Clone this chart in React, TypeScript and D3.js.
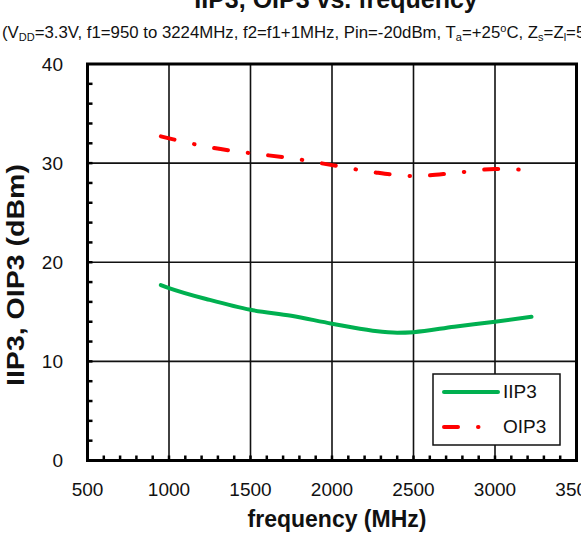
import React from "react";
import * as d3 from "d3";

const freqIIP3 = [950, 1000, 1250, 1500, 1750, 2000, 2250, 2400, 2500, 2750, 3000, 3224];
const valIIP3 = [17.7, 17.4, 16.2, 15.2, 14.6, 13.8, 13.1, 12.9, 12.95, 13.5, 14.0, 14.5];
const freqOIP3 = [950, 1000, 1250, 1500, 1750, 2000, 2250, 2500, 2750, 3000, 3224];
const valOIP3 = [32.7, 32.5, 31.6, 31.0, 30.5, 29.8, 29.1, 28.7, 29.0, 29.4, 29.3];
const xTicks = [500, 1000, 1500, 2000, 2500, 3000, 3500];
const yTicks = [0, 10, 20, 30, 40];
const seriesNames = ["IIP3", "OIP3"];

const FONT = "'Liberation Sans', Arial, Helvetica, sans-serif";

export default function App() {
  const x = d3.scaleLinear().domain([500, 3500]).range([87.5, 576.5]);
  const y = d3.scaleLinear().domain([0, 40]).range([460.5, 64]);
  const line = d3
    .line<[number, number]>()
    .x((d) => x(d[0]))
    .y((d) => y(d[1]))
    .curve(d3.curveMonotoneX);
  const iip3 = freqIIP3.map((f, i) => [f, valIIP3[i]] as [number, number]);
  const oip3 = freqOIP3.map((f, i) => [f, valOIP3[i]] as [number, number]);
  const minorX = d3.range(600, 3500, 100);
  const minorY = d3.range(2, 40, 2);
  const [x0, x1] = x.range();
  const [y0, y1] = y.range();

  return (
    <svg
      width={581}
      height={544}
      style={{ position: "absolute", left: 0, top: 0, background: "#fff" }}
      fontFamily={FONT}
    >
      <rect x={0} y={0} width={581} height={544} fill="#fff" />
      {/* title */}
      <text x={336} y={8} textAnchor="middle" fontWeight="bold" fontSize={25} fill="#111">
        IIP3, OIP3 vs. frequency
      </text>
      <text x={2} y={38} fontSize={16.8} fill="#111">
        (V<tspan fontSize={11} dy={3}>DD</tspan>
        <tspan dy={-3}>=3.3V, f1=950 to 3224MHz, f2=f1+1MHz, Pin=-20dBm, T</tspan>
        <tspan fontSize={11} dy={3}>a</tspan>
        <tspan dy={-3}>=+25</tspan>
        <tspan fontSize={11} dy={-6}>o</tspan>
        <tspan dy={6}>C, Z</tspan>
        <tspan fontSize={11} dy={3}>s</tspan>
        <tspan dy={-3}>=Z</tspan>
        <tspan fontSize={11} dy={3}>l</tspan>
        <tspan dy={-3}>=50Ω)</tspan>
      </text>

      {/* grid */}
      {xTicks.slice(1, -1).map((t) => (
        <line key={"gx" + t} x1={x(t)} x2={x(t)} y1={y1} y2={y0} stroke="#111" strokeWidth={1.6} />
      ))}
      {yTicks.slice(1, -1).map((t) => (
        <line key={"gy" + t} x1={x0} x2={x1} y1={y(t)} y2={y(t)} stroke="#111" strokeWidth={1.6} />
      ))}
      {/* minor ticks */}
      {minorX.map((t) => (
        <line key={"mx" + t} x1={x(t)} x2={x(t)} y1={y0} y2={y0 - 5} stroke="#000" strokeWidth={2.5} />
      ))}
      {minorY.map((t) => (
        <line key={"my" + t} x1={x0} x2={x0 + 5} y1={y(t)} y2={y(t)} stroke="#000" strokeWidth={2.5} />
      ))}

      {/* series */}
      <path d={line(iip3) || ""} fill="none" stroke="#00b050" strokeWidth={4} strokeLinecap="round" />
      <path
        d={line(oip3) || ""}
        fill="none"
        stroke="#ff0000"
        strokeWidth={4}
        strokeLinecap="round"
        strokeDasharray="14 20 0.5 20"
      />

      {/* frame */}
      <rect x={x0} y={y1} width={x1 - x0} height={y0 - y1} fill="none" stroke="#000" strokeWidth={3} />

      {/* tick labels */}
      {xTicks.map((t) => (
        <text key={"tx" + t} x={x(t)} y={496} textAnchor="middle" fontSize={19} fill="#111">
          {t}
        </text>
      ))}
      {yTicks.map((t) => (
        <text key={"ty" + t} x={63} y={y(t)} textAnchor="end" dominantBaseline="central" fontSize={19} fill="#111">
          {t}
        </text>
      ))}

      {/* axis titles */}
      <text x={337} y={527} textAnchor="middle" fontWeight="bold" fontSize={23} fill="#111">
        frequency (MHz)
      </text>
      <text
        transform="translate(24,275) rotate(-90)"
        textAnchor="middle"
        fontWeight="bold"
        fontSize={24}
        textLength={222}
        lengthAdjust="spacingAndGlyphs"
        fill="#111"
      >
        IIP3, OIP3 (dBm)
      </text>

      {/* legend */}
      <rect x={433} y={374} width={127} height={71} fill="#fff" stroke="#111" strokeWidth={1.5} />
      <line x1={444} x2={498} y1={392} y2={392} stroke="#00b050" strokeWidth={4} strokeLinecap="round" />
      <text x={503} y={398} fontSize={19} fill="#111">{seriesNames[0]}</text>
      <line
        x1={444}
        x2={498}
        y1={427}
        y2={427}
        stroke="#ff0000"
        strokeWidth={4}
        strokeLinecap="round"
        strokeDasharray="14 20 0.5 20"
      />
      <text x={503} y={433} fontSize={19} fill="#111">{seriesNames[1]}</text>
    </svg>
  );
}
